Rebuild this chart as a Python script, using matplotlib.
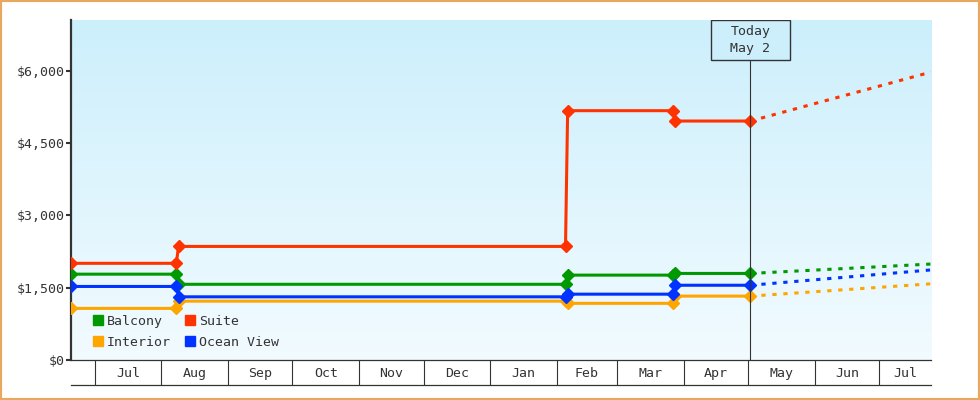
import numpy as np
import pandas as pd
import matplotlib
matplotlib.use("Agg")
import matplotlib.pyplot as plt
import matplotlib.dates as mdates
from matplotlib.colors import LinearSegmentedColormap
from matplotlib.lines import Line2D
from matplotlib.patches import Rectangle
from matplotlib.ticker import FuncFormatter, FixedLocator, FixedFormatter, NullFormatter

# price history (step changes) up to today
fechas = pd.to_datetime(["2024-06-20", "2024-08-08", "2024-08-09", "2025-02-05",
                         "2025-02-06", "2025-03-27", "2025-03-28", "2025-05-02"])
balcony = [1780, 1780, 1570, 1570, 1760, 1760, 1795, 1795]
suite = [2005, 2005, 2355, 2355, 5170, 5170, 4955, 4955]
interior = [1070, 1070, 1220, 1220, 1175, 1175, 1325, 1325]
ocean_view = [1525, 1525, 1310, 1310, 1365, 1365, 1550, 1550]

# projection from today to end of range
fechas_proy = pd.to_datetime(["2025-05-02", "2025-07-25"])
balcony_proy = [1795, 1990]
suite_proy = [4955, 5970]
interior_proy = [1325, 1580]
ocean_view_proy = [1550, 1868]

hoy = pd.Timestamp("2025-05-02")
x_ini = pd.Timestamp("2024-06-20")
x_fin = pd.Timestamp("2025-07-25")
y_ticks = [0, 1500, 3000, 4500, 6000]

series = [
    ("Balcony", balcony, balcony_proy, "#009900"),
    ("Suite", suite, suite_proy, "#FF3300"),
    ("Interior", interior, interior_proy, "#FFA500"),
    ("Ocean View", ocean_view, ocean_view_proy, "#0033FF"),
]

FONT = "DejaVu Sans Mono"
GRIS = "#333333"
plt.rcParams["font.family"] = FONT

fig = plt.figure(figsize=(9.8, 4.0), dpi=100)
ax = fig.add_axes([71 / 980, 40 / 400, 860 / 980, 340 / 400])

# gradient background
cmap = LinearSegmentedColormap.from_list("fondo", ["#CCEFFC", "#F2FBFF"])
ax.imshow(np.linspace(0, 1, 256).reshape(-1, 1), cmap=cmap, aspect="auto",
          extent=[0, 1, 0, 1], transform=ax.transAxes, zorder=0)

for nombre, valores, proy, color in series:
    ax.plot(fechas, valores, color=color, lw=2.2, marker="D", ms=5.8,
            zorder=3, solid_joinstyle="miter")
    ax.plot(fechas_proy, proy, color=color, lw=2.2, dashes=(1.4, 2.2), zorder=3)

ax.set_xlim(x_ini, x_fin)
ax.set_ylim(0, 7050)

# today marker
ax.axvline(hoy, color=GRIS, lw=0.8, zorder=4)
x0, x1 = mdates.date2num(x_ini), mdates.date2num(x_fin)
xf = (mdates.date2num(hoy) - x0) / (x1 - x0)
w, h = 79 / 860, 40 / 340
ax.add_patch(Rectangle((xf - w / 2, 1 - h), w, h, transform=ax.transAxes,
                       facecolor="#CDEFFC", edgecolor=GRIS, lw=1, zorder=5))
ax.text(xf, 1 - h / 2, "Today\nMay 2", transform=ax.transAxes, ha="center",
        va="center", fontsize=9.5, color=GRIS, linespacing=1.4, zorder=6)

# y axis
ax.set_yticks(y_ticks)
ax.yaxis.set_major_formatter(FuncFormatter(lambda v, p: f"${v:,.0f}"))
ax.tick_params(axis="y", length=3.6, width=1.5, color=GRIS, labelcolor=GRIS,
               labelsize=9.5, pad=1)

# x axis: month separators + centered month labels
inicios = pd.date_range("2024-07-01", "2025-07-01", freq="MS")
ax.xaxis.set_major_locator(FixedLocator(mdates.date2num(inicios)))
ax.xaxis.set_major_formatter(NullFormatter())
bordes = np.r_[mdates.date2num(inicios), x1]
centros = (bordes[:-1] + bordes[1:]) / 2
ax.xaxis.set_minor_locator(FixedLocator(centros))
ax.xaxis.set_minor_formatter(FixedFormatter([d.strftime("%b") for d in inicios]))
ax.tick_params(axis="x", which="major", length=18, width=0.8, color=GRIS)
ax.tick_params(axis="x", which="minor", length=0, pad=5, labelsize=9.5,
               labelcolor=GRIS)
ax.plot([0, 1], [-25 / 340] * 2, transform=ax.transAxes, color=GRIS, lw=0.9,
        clip_on=False)

for lado in ["top", "right"]:
    ax.spines[lado].set_visible(False)
ax.spines["left"].set_color(GRIS)
ax.spines["left"].set_linewidth(1.6)
ax.spines["bottom"].set_color(GRIS)
ax.spines["bottom"].set_linewidth(0.9)

# legend
orden = [0, 2, 1, 3]
handles = [Line2D([], [], marker="s", ls="none", ms=7.5, color=series[i][3])
           for i in orden]
labels = [series[i][0] for i in orden]
ax.legend(handles, labels, ncol=2, loc="upper left", frameon=False,
          bbox_to_anchor=(15 / 860, 52 / 340), borderpad=0, handlelength=0.8,
          handletextpad=0.3, columnspacing=1.0, labelspacing=0.6,
          prop={"family": FONT, "size": 9.5}, labelcolor=GRIS)

fig.patches.append(Rectangle((0, 0), 1, 1, transform=fig.transFigure,
                             fill=False, edgecolor="#E8A862", lw=3))

fig.savefig("out.png", dpi=100)
